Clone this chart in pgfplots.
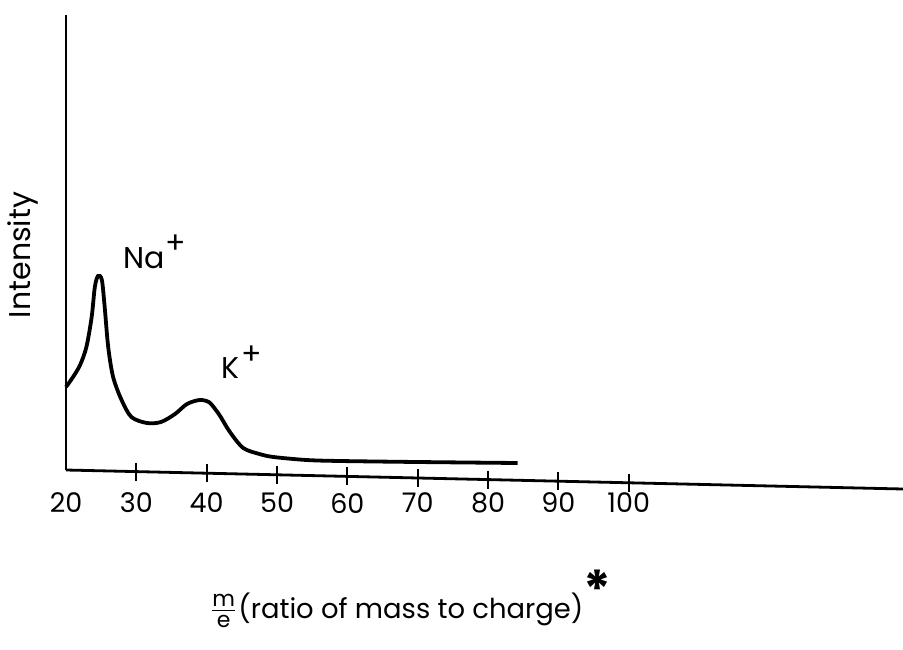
\documentclass[border=0pt]{standalone}
\usepackage{pgfplots}
\pgfplotsset{compat=1.18}
\usepackage{fontspec}
\setmainfont{Poppins}
\begin{document}
\begin{tikzpicture}
\useasboundingbox (-33pt,-89.5pt) rectangle (418.5pt,235pt);
\begin{axis}[
  at={(0,0)}, anchor=south west,
  scale only axis, width=418.5pt, height=227.5pt,
  xmin=20, xmax=139, ymin=0, ymax=455,
  axis x line=bottom, axis y line=left,
  x axis line style={draw=none, -},
  y axis line style={line width=1.3pt, -},
  xtick={20,30,40,50,60,70,80,90,100},
  ytick=\empty,
  major tick length=0pt,
  xticklabel style={font=\fontsize{13.5}{15}\selectfont, yshift=-8pt},
  /pgf/number format/assume math mode=true,
  clip=false,
]
% tilted baseline
\addplot[black, line width=1.4pt] coordinates {(20,0) (139,-19)};
% ticks on the tilted baseline
\addplot[black, only marks, mark=|, mark size=4.5pt, mark options={line width=0.9pt}] coordinates {
(30,-1.6) (40,-3.2) (50,-4.8) (60,-6.4) (70,-8.0) (80,-9.6) (90,-11.2) (100,-12.8)};
% spectrum
\addplot[black, line width=1.9pt, smooth, tension=0.5] coordinates {
(20.0,83) (21.0,93) (22.0,105) (22.9,123) (23.65,153) (24.1,183) (24.55,194)
(25.1,190) (25.5,163) (26.0,123) (26.7,93) (27.9,70) (29.3,53) (31.5,47)
(33.5,48) (35.5,56) (37.2,66) (39.0,70) (40.3,68) (41.2,61) (42.0,53)
(43.3,38) (45.2,22) (47.5,16) (49.5,13) (54.2,10) (59.0,9) (70,8) (84.2,7)};
\node[anchor=base west, font=\fontsize{15}{17}\selectfont, inner sep=0pt] at (axis cs:28.1,202) {Na\kern0.5pt\raisebox{0.5em}{+}};
\node[anchor=base west, font=\fontsize{15}{17}\selectfont, inner sep=0pt] at (axis cs:42.0,92) {K\kern1pt\raisebox{0.45em}{+}};
\node[rotate=90, font=\fontsize{15}{17}\selectfont] at (axis cs:13.9,215) {Intensity};
\node[anchor=base west, font=\fontsize{13.7}{16}\selectfont, inner sep=0pt] at (axis cs:40.4,-148) {$\frac{\mbox{\fontsize{11}{12}\selectfont m}}{\mbox{\fontsize{11}{12}\selectfont e}}$\kern0.5pt(ratio of mass to charge)};
\node[font=\fontsize{26}{26}\selectfont\bfseries, inner sep=0pt] at (axis cs:95.6,-119) {*};
\end{axis}
\end{tikzpicture}
\end{document}
